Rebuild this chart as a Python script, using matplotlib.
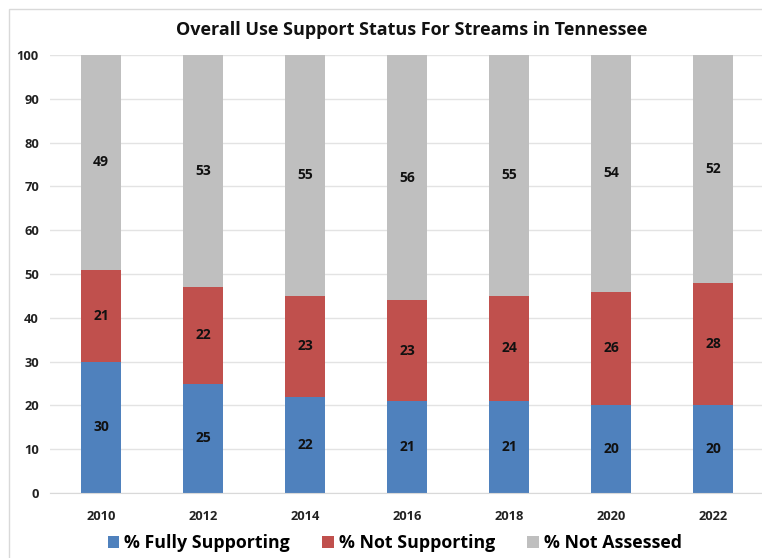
import matplotlib.pyplot as plt
import numpy as np
from matplotlib.patches import Rectangle

years = ['2010', '2012', '2014', '2016', '2018', '2020', '2022']
fully = [30, 25, 22, 21, 21, 20, 20]
not_supp = [21, 22, 23, 23, 24, 26, 28]
not_assessed = [49, 53, 55, 56, 55, 54, 52]

plt.rcParams['font.family'] = ['Open Sans', 'DejaVu Sans']

fig = plt.figure(figsize=(7.62, 5.58), dpi=100)
ax = fig.add_axes([50 / 762, 1 - 493 / 558, 714 / 762, 438 / 558])

# chart area border
fig.patches.append(Rectangle((9 / 762, -0.01), 1.0, 1 - 9 / 558 + 0.01,
                             transform=fig.transFigure, fill=False,
                             edgecolor='#d9d9d9', linewidth=1))

x = np.arange(len(years))
w = 0.4
colors = ['#4f81bd', '#c0504d', '#bfbfbf']
labels = ['% Fully Supporting', '% Not Supporting', '% Not Assessed']
bottom = np.zeros(len(years))
for vals, c, lab in zip([fully, not_supp, not_assessed], colors, labels):
    vals = np.array(vals)
    ax.bar(x, vals, w, bottom=bottom, color=c, label=lab, zorder=2)
    for xi, b, v in zip(x, bottom, vals):
        ax.text(xi, b + v / 2, str(v), ha='center', va='center',
                fontsize=10, fontweight='bold', color='#111111', zorder=3)
    bottom += vals

ax.set_xlim(-0.5, len(years) - 0.5)
ax.set_ylim(0, 100)
ax.set_yticks(range(0, 101, 10))
ax.set_xticks(x)
ax.set_xticklabels(years)
ax.grid(axis='y', color='#e3e3e3', linewidth=1, zorder=0)
for s in ['top', 'right', 'left']:
    ax.spines[s].set_visible(False)
ax.spines['bottom'].set_color('#d9d9d9')
ax.tick_params(axis='both', length=0, labelsize=9.3, colors='#222222')
ax.tick_params(axis='x', pad=12)
ax.tick_params(axis='y', pad=8)
for t in ax.get_xticklabels() + ax.get_yticklabels():
    t.set_fontweight('bold')

fig.text(0.54, 1 - 30 / 558, 'Overall Use Support Status For Streams in Tennessee',
         ha='center', va='center', fontsize=13, fontweight='bold',
         color='#111111')

ax.legend(loc='center', bbox_to_anchor=(0.483, -0.115), ncol=3, frameon=False,
          prop={'size': 12.8, 'weight': 'bold'}, handlelength=0.65,
          handleheight=0.65, handletextpad=0.3, columnspacing=1.8)

fig.savefig('out.png', dpi=100)
